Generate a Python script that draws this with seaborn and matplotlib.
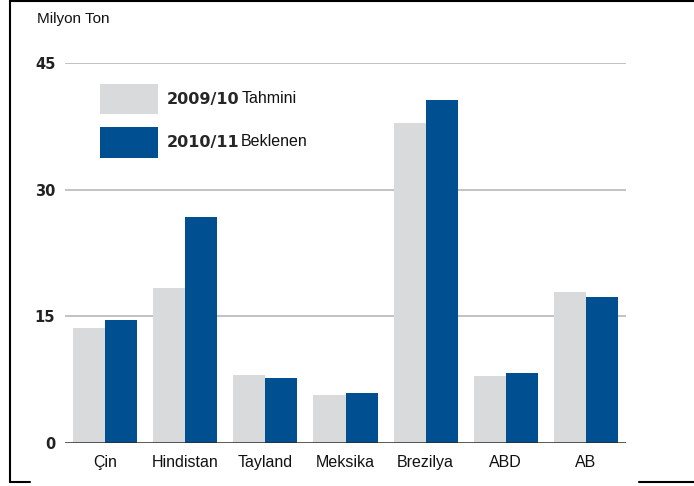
import pandas as pd
import matplotlib
matplotlib.use("Agg")
import matplotlib.pyplot as plt
import seaborn as sns
from matplotlib.lines import Line2D
from matplotlib.patches import Patch

# values (million tonnes)
countries = ["Çin", "Hindistan", "Tayland", "Meksika", "Brezilya", "ABD", "AB"]
season_0910 = [13.6, 18.3, 8.0, 5.6, 37.9, 7.9, 17.9]
season_1011 = [14.6, 26.7, 7.7, 5.9, 40.6, 8.3, 17.3]
series_names = ["2009/10", "2010/11"]
series_suffix = ["Tahmini", "Beklenen"]
yticks = [0, 15, 30, 45]

LIGHT = "#d9dadc"
DARK = "#004f91"

df = pd.DataFrame({
    "country": countries * 2,
    "value": season_0910 + season_1011,
    "season": [series_names[0]] * len(countries) + [series_names[1]] * len(countries),
})

sns.set_style("white")
plt.rcParams["font.family"] = ["Liberation Sans", "DejaVu Sans"]

fig = plt.figure(figsize=(6.94, 4.86), dpi=100)
ax = fig.add_axes([65 / 694, 1 - 442.7 / 486, 561 / 694, 379.7 / 486])

sns.barplot(data=df, x="country", y="value", hue="season",
            palette=[LIGHT, DARK], order=countries, hue_order=series_names,
            width=0.8, linewidth=0, saturation=1, legend=False, ax=ax)

ax.set_ylim(0, 45)
ax.set_xlim(-0.5, len(countries) - 0.5)
ax.set_yticks(yticks)
ax.set_yticklabels([str(v) for v in yticks], fontfamily="DejaVu Sans",
                   fontweight="bold", fontsize=10.5, color="#222222")
ax.set_xticks(range(len(countries)))
ax.set_xticklabels(countries, fontsize=11.5, color="#111111")
ax.tick_params(axis="y", length=0, pad=7)
ax.tick_params(axis="x", length=0, pad=9)
ax.set_xlabel("")
ax.set_ylabel("")
for s in ax.spines.values():
    s.set_visible(False)

for v in yticks[1:]:
    ax.axhline(v, color="#bdbdbd", lw=1.3, zorder=0)
ax.axhline(0, color="#2b2b2b", lw=1.8, zorder=3)

# legend: bold season, plain suffix next to it
handles = [Patch(facecolor=LIGHT, edgecolor="none"),
           Patch(facecolor=DARK, edgecolor="none")]
leg = ax.legend(handles, series_names, loc="upper left",
                bbox_to_anchor=((100 - 65) / 561, (442.7 - 84) / 379.7),
                frameon=False, borderpad=0, borderaxespad=0,
                handlelength=3.6, handleheight=2.55, labelspacing=0.8,
                handletextpad=0.6,
                prop={"family": "DejaVu Sans", "weight": "bold", "size": 11.5})

fig.canvas.draw()
for t, suffix in zip(leg.get_texts(), series_suffix):
    bb = t.get_window_extent()
    ax.annotate(suffix, xy=(bb.x1 + 1.5, bb.y0 + 1), xycoords="figure pixels",
                va="bottom", ha="left", fontsize=11.5, color="#111111")

fig.text(37 / 694, 1 - 19 / 486, "Milyon Ton", fontsize=11, va="center",
         ha="left", color="#111111")

# outer frame pieces of the original graphic
frame = dict(color="black", lw=1.5, transform=fig.transFigure)
fig.add_artist(Line2D([10 / 694, 1], [1 - 1 / 486, 1 - 1 / 486], **frame))
fig.add_artist(Line2D([10 / 694, 10 / 694], [1, 1 - 482 / 486], **frame))
fig.add_artist(Line2D([10 / 694, 30 / 694], [1 - 482 / 486, 1 - 482 / 486], **frame))
fig.add_artist(Line2D([639 / 694, 1], [1 - 482 / 486, 1 - 482 / 486], **frame))

fig.savefig("out.png", dpi=100)
